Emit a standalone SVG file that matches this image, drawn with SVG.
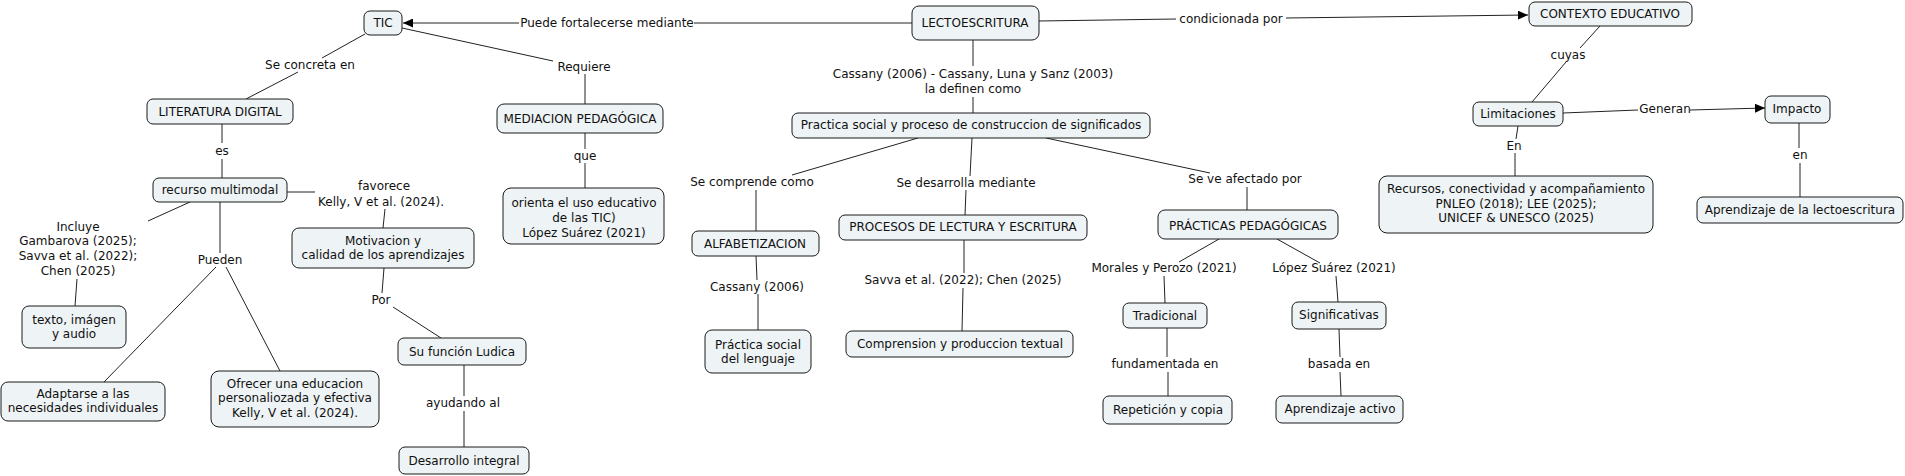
<svg xmlns="http://www.w3.org/2000/svg" width="1905" height="476" viewBox="0 0 1905 476">
<style>
  .n rect { fill: #eef3f5; stroke: #1a1a1a; stroke-width: 1; }
  text { font-family: "DejaVu Sans", Verdana, sans-serif; font-size: 12px; fill: #111; text-anchor: middle; }
  #connectors line { stroke: #222; stroke-width: 1; fill: none; }
</style>
<defs>
  <marker id="arr" markerUnits="userSpaceOnUse" markerWidth="11" markerHeight="9" refX="10" refY="4.5" orient="auto">
    <path d="M0,0 L10,4.5 L0,9 z" fill="#000"/>
  </marker>
</defs>
<rect width="1905" height="476" fill="#fff"/>

<g id="connectors">
  <line x1="912" y1="23" x2="694" y2="23"/>
  <line x1="519" y1="23" x2="403" y2="23" marker-end="url(#arr)"/>
  <line x1="1039" y1="21" x2="1176" y2="19"/>
  <line x1="1286" y1="18" x2="1528" y2="15" marker-end="url(#arr)"/>
  <line x1="365" y1="34" x2="322" y2="58"/>
  <line x1="298" y1="72" x2="246" y2="99"/>
  <line x1="402" y1="28" x2="553" y2="61"/>
  <line x1="585" y1="74" x2="585" y2="104"/>
  <line x1="973" y1="40" x2="973" y2="66"/>
  <line x1="973" y1="97" x2="973" y2="113"/>
  <line x1="1600" y1="26" x2="1580" y2="48"/>
  <line x1="1566" y1="62" x2="1532" y2="102"/>
  <line x1="222" y1="124" x2="222" y2="143"/>
  <line x1="222" y1="159" x2="222" y2="178"/>
  <line x1="585" y1="133" x2="585" y2="149"/>
  <line x1="585" y1="163" x2="585" y2="188"/>
  <line x1="1563" y1="113" x2="1638" y2="110"/>
  <line x1="1690" y1="110" x2="1765" y2="108" marker-end="url(#arr)"/>
  <line x1="1518" y1="126" x2="1516" y2="139"/>
  <line x1="1515" y1="153" x2="1515" y2="176"/>
  <line x1="1799" y1="123" x2="1799" y2="148"/>
  <line x1="1800" y1="163" x2="1800" y2="197"/>
  <line x1="287" y1="192" x2="315" y2="192"/>
  <line x1="385" y1="209" x2="383" y2="228"/>
  <line x1="190" y1="202" x2="148" y2="221"/>
  <line x1="77" y1="279" x2="75" y2="306"/>
  <line x1="220" y1="202" x2="220" y2="253"/>
  <line x1="216" y1="267" x2="104" y2="382"/>
  <line x1="226" y1="267" x2="280" y2="371"/>
  <line x1="918" y1="138" x2="792" y2="175"/>
  <line x1="756" y1="190" x2="756" y2="231"/>
  <line x1="972" y1="138" x2="970" y2="176"/>
  <line x1="966" y1="190" x2="965" y2="215"/>
  <line x1="1046" y1="138" x2="1210" y2="173"/>
  <line x1="1247" y1="187" x2="1247" y2="210"/>
  <line x1="384" y1="268" x2="382" y2="293"/>
  <line x1="393" y1="307" x2="441" y2="338"/>
  <line x1="756" y1="256" x2="757" y2="280"/>
  <line x1="758" y1="294" x2="758" y2="330"/>
  <line x1="964" y1="240" x2="964" y2="273"/>
  <line x1="963" y1="288" x2="962" y2="331"/>
  <line x1="1219" y1="239" x2="1179" y2="262"/>
  <line x1="1164" y1="276" x2="1165" y2="303"/>
  <line x1="1277" y1="239" x2="1320" y2="263"/>
  <line x1="1336" y1="276" x2="1338" y2="302"/>
  <line x1="1167" y1="328" x2="1167" y2="357"/>
  <line x1="1168" y1="372" x2="1168" y2="396"/>
  <line x1="1339" y1="329" x2="1340" y2="357"/>
  <line x1="1340" y1="372" x2="1341" y2="396"/>
  <line x1="464" y1="365" x2="464" y2="396"/>
  <line x1="464" y1="411" x2="464" y2="447"/>
</g>

<g id="linking-phrases">
  <text x="607" y="27">Puede fortalecerse mediante</text>
  <text x="1231" y="23">condicionada por</text>
  <text x="310" y="69">Se concreta en</text>
  <text x="584" y="71">Requiere</text>
  <text x="973" y="78">Cassany (2006) - Cassany, Luna y Sanz (2003)</text>
  <text x="973" y="93">la definen como</text>
  <text x="1568" y="59">cuyas</text>
  <text x="222" y="155">es</text>
  <text x="585" y="160">que</text>
  <text x="1665" y="113">Generan</text>
  <text x="1514" y="150">En</text>
  <text x="1800" y="159">en</text>
  <text x="384" y="190">favorece</text>
  <text x="381" y="206">Kelly, V et al. (2024).</text>
  <text x="78" y="231">Incluye</text>
  <text x="78" y="245">Gambarova (2025);</text>
  <text x="78" y="260">Savva et al. (2022);</text>
  <text x="78" y="275">Chen (2025)</text>
  <text x="752" y="186">Se comprende como</text>
  <text x="966" y="187">Se desarrolla mediante</text>
  <text x="1245" y="183">Se ve afectado por</text>
  <text x="220" y="264">Pueden</text>
  <text x="381" y="304">Por</text>
  <text x="757" y="291">Cassany (2006)</text>
  <text x="963" y="284">Savva et al. (2022); Chen (2025)</text>
  <text x="1164" y="272">Morales y Perozo (2021)</text>
  <text x="1334" y="272">López Suárez (2021)</text>
  <text x="1165" y="368">fundamentada en</text>
  <text x="1339" y="368">basada en</text>
  <text x="463" y="407">ayudando al</text>
</g>

<g id="tic" class="n"><rect x="364" y="11" width="38" height="24" rx="6"/><text x="383" y="27">TIC</text></g>
<g id="lectoescritura" class="n"><rect x="912" y="6" width="127" height="34" rx="7"/><text x="975" y="27">LECTOESCRITURA</text></g>
<g id="contexto-educativo" class="n"><rect x="1529" y="2" width="163" height="24" rx="6"/><text x="1610" y="18">CONTEXTO EDUCATIVO</text></g>
<g id="literatura-digital" class="n"><rect x="147" y="99" width="146" height="25" rx="6"/><text x="220" y="116">LITERATURA DIGITAL</text></g>
<g id="mediacion" class="n"><rect x="497" y="104" width="166" height="29" rx="7"/><text x="580" y="123">MEDIACION PEDAGÓGICA</text></g>
<g id="practica-social-proceso" class="n"><rect x="792" y="113" width="358" height="25" rx="6"/><text x="971" y="129">Practica social y proceso de construccion de significados</text></g>
<g id="limitaciones" class="n"><rect x="1473" y="102" width="90" height="24" rx="6"/><text x="1518" y="118">Limitaciones</text></g>
<g id="impacto" class="n"><rect x="1765" y="96" width="65" height="27" rx="6"/><text x="1797" y="113">Impacto</text></g>
<g id="recurso-multimodal" class="n"><rect x="153" y="178" width="134" height="24" rx="6"/><text x="220" y="194">recurso multimodal</text></g>
<g id="orienta" class="n"><rect x="503" y="188" width="161" height="56" rx="8"/><text x="584" y="207">orienta el uso educativo</text><text x="584" y="222">de las TIC)</text><text x="584" y="237">López Suárez (2021)</text></g>
<g id="recursos-conectividad" class="n"><rect x="1379" y="176" width="274" height="57" rx="8"/><text x="1516" y="193">Recursos, conectividad y acompañamiento</text><text x="1516" y="208">PNLEO (2018); LEE (2025);</text><text x="1516" y="222">UNICEF &amp; UNESCO (2025)</text></g>
<g id="aprendizaje-lectoescritura" class="n"><rect x="1697" y="197" width="206" height="26" rx="6"/><text x="1800" y="214">Aprendizaje de la lectoescritura</text></g>
<g id="motivacion" class="n"><rect x="292" y="228" width="182" height="40" rx="7"/><text x="383" y="245">Motivacion y</text><text x="383" y="259">calidad de los aprendizajes</text></g>
<g id="alfabetizacion" class="n"><rect x="692" y="231" width="127" height="25" rx="6"/><text x="755" y="248">ALFABETIZACION</text></g>
<g id="procesos" class="n"><rect x="839" y="215" width="248" height="25" rx="6"/><text x="963" y="231">PROCESOS DE LECTURA Y ESCRITURA</text></g>
<g id="practicas-pedagogicas" class="n"><rect x="1158" y="210" width="180" height="29" rx="7"/><text x="1248" y="230">PRÁCTICAS PEDAGÓGICAS</text></g>
<g id="texto-imagen-audio" class="n"><rect x="22" y="306" width="104" height="42" rx="7"/><text x="74" y="324">texto, imágen</text><text x="74" y="338">y audio</text></g>
<g id="tradicional" class="n"><rect x="1123" y="303" width="84" height="25" rx="6"/><text x="1165" y="320">Tradicional</text></g>
<g id="significativas" class="n"><rect x="1292" y="302" width="94" height="27" rx="6"/><text x="1339" y="319">Significativas</text></g>
<g id="practica-social-lenguaje" class="n"><rect x="705" y="330" width="106" height="43" rx="7"/><text x="758" y="349">Práctica social</text><text x="758" y="363">del lenguaje</text></g>
<g id="comprension" class="n"><rect x="846" y="331" width="227" height="26" rx="6"/><text x="960" y="348">Comprension y produccion textual</text></g>
<g id="su-funcion-ludica" class="n"><rect x="398" y="338" width="128" height="27" rx="6"/><text x="462" y="356">Su función Ludica</text></g>
<g id="adaptarse" class="n"><rect x="1" y="382" width="164" height="39" rx="7"/><text x="83" y="398">Adaptarse a las</text><text x="83" y="412">necesidades individuales</text></g>
<g id="ofrecer" class="n"><rect x="211" y="371" width="168" height="56" rx="8"/><text x="295" y="388">Ofrecer una educacion</text><text x="295" y="402">personaliozada y efectiva</text><text x="295" y="417">Kelly, V et al. (2024).</text></g>
<g id="repeticion" class="n"><rect x="1103" y="396" width="129" height="28" rx="6"/><text x="1168" y="414">Repetición y copia</text></g>
<g id="aprendizaje-activo" class="n"><rect x="1276" y="396" width="127" height="27" rx="6"/><text x="1340" y="413">Aprendizaje activo</text></g>
<g id="desarrollo-integral" class="n"><rect x="399" y="447" width="130" height="27" rx="6"/><text x="464" y="465">Desarrollo integral</text></g>
</svg>
